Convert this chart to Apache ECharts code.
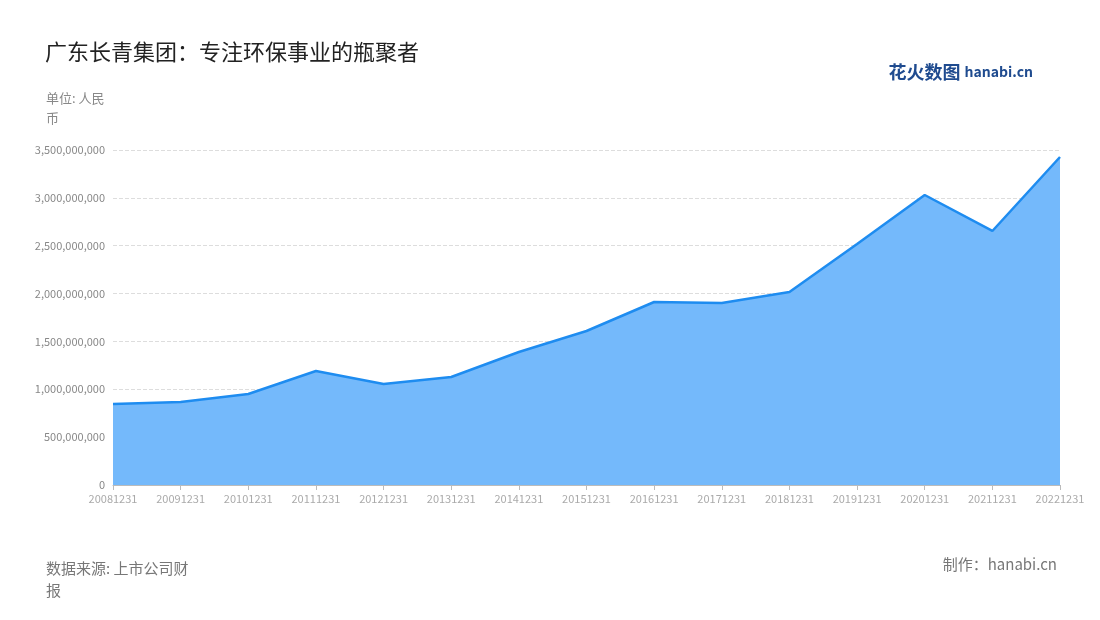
<!DOCTYPE html>
<html><head><meta charset="utf-8">
<script src="https://cdn.jsdelivr.net/npm/echarts@6/dist/echarts.min.js"></script>
<style>html,body{margin:0;padding:0;background:#fff}#c{width:1100px;height:620px}</style>
</head><body><div id="c"></div>
<script>
const categories = ['20081231','20091231','20101231','20111231','20121231','20131231','20141231','20151231','20161231','20171231','20181231','20191231','20201231','20211231','20221231'];
const revenue = [846000000,867000000,951000000,1191000000,1055000000,1128000000,1390000000,1609000000,1912000000,1901000000,2016000000,2518000000,3030000000,2654000000,3427000000];
const yTicks = {min:0, max:3500000000, interval:500000000};
const chart = echarts.init(document.getElementById('c'));
const F = '"Noto Sans CJK SC","Noto Sans",sans-serif';
chart.setOption({
  animation:false,
  textStyle:{fontFamily:F},
  title:[
    {text:'广东长青集团：专注环保事业的瓶聚者',left:40,top:36,textStyle:{fontSize:22,fontWeight:'normal',color:'#222',fontFamily:F}},
    {text:'单位: 人民币',left:41,top:83,textStyle:{fontSize:13,fontWeight:'normal',color:'#888',width:70,overflow:'break',lineHeight:20,fontFamily:F}},
    {text:'数据来源: 上市公司财报',left:41,top:552,textStyle:{fontSize:15,fontWeight:'normal',color:'#777',width:160,overflow:'break',lineHeight:22,fontFamily:F}},
    {text:'制作：hanabi.cn',right:38,top:552,textStyle:{fontSize:15,fontWeight:'normal',color:'#777',fontFamily:F}},
    {text:'{a|花火}{b|数图} {c|hanabi.cn}',right:62,top:58,textStyle:{rich:{a:{fontSize:18,fontWeight:'bold',color:'#1f4b8f',fontFamily:F},b:{fontSize:18,color:'#1f4b8f',fontFamily:F},c:{fontSize:14,fontWeight:'bold',color:'#1f4b8f'}}}}
  ],
  grid:{left:113,right:40,top:150,bottom:135},
  xAxis:{type:'category',boundaryGap:false,data:categories,
    axisLine:{lineStyle:{color:'#bbb'}},axisTick:{show:true,alignWithLabel:true,lineStyle:{color:'#bbb'}},
    axisLabel:{color:'#aaa',fontSize:11,interval:0}},
  yAxis:{type:'value',min:yTicks.min,max:yTicks.max,interval:yTicks.interval,
    axisLine:{show:false},axisTick:{show:false},
    axisLabel:{color:'#888',fontSize:11,formatter:v=>v.toLocaleString('en-US')},
    splitLine:{lineStyle:{type:'dashed',color:'#ddd'}}},
  series:[{type:'line',data:revenue,symbol:'none',
    lineStyle:{color:'#1e8cf0',width:2.5},
    areaStyle:{color:'#74b9fb',opacity:1}}]
});
</script></body></html>
